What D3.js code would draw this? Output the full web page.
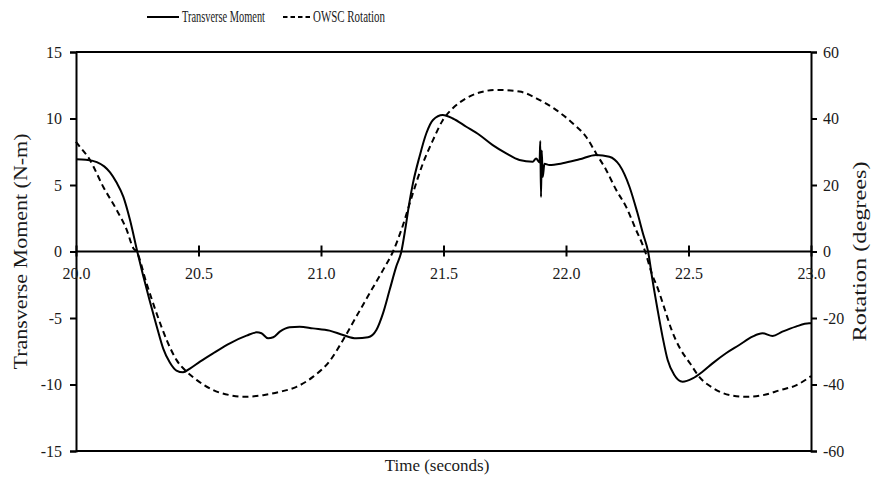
<!DOCTYPE html>
<html>
<head>
<meta charset="utf-8">
<script src="https://cdn.jsdelivr.net/npm/d3@7"></script>
<style>
  body { margin: 0; background: #fff; }
  text { font-family: "Liberation Serif", "Times New Roman", serif; fill: #1a1a1a; }
</style>
</head>
<body>
<div id="chart-area"></div>
<script>
// Transverse moment (N-m), solid line, left axis
const momentTime = [20.000, 20.040, 20.085, 20.115, 20.139, 20.165, 20.193, 20.220, 20.250, 20.274,
  20.300, 20.329, 20.356, 20.383, 20.410, 20.437, 20.465, 20.506, 20.560, 20.628,
  20.696, 20.737, 20.757, 20.784, 20.805, 20.832, 20.872, 20.913, 20.967, 21.035,
  21.090, 21.144, 21.192, 21.226, 21.253, 21.280, 21.307, 21.328, 21.345, 21.360,
  21.375, 21.402, 21.430, 21.457, 21.497, 21.538, 21.593, 21.647, 21.701, 21.756,
  21.810, 21.864, 21.878, 21.892, 21.895, 21.898, 21.901, 21.905, 21.912, 21.932,
  21.986, 22.055, 22.123, 22.177, 22.218, 22.259, 22.290, 22.315, 22.335, 22.353,
  22.374, 22.394, 22.415, 22.442, 22.476, 22.517, 22.557, 22.598, 22.653, 22.707,
  22.761, 22.802, 22.843, 22.883, 22.938, 22.992, 23.000];
const momentValue = [6.93, 6.90, 6.72, 6.40, 5.95, 5.20, 4.12, 2.40, 0.00, -1.80,
  -3.65, -5.60, -7.30, -8.35, -8.95, -9.08, -8.80, -8.28, -7.65, -6.90,
  -6.33, -6.08, -6.15, -6.53, -6.45, -6.03, -5.70, -5.65, -5.78, -5.95,
  -6.28, -6.53, -6.45, -5.90, -4.65, -2.90, -1.14, 0.00, 1.80, 3.60,
  5.10, 7.13, 8.89, 9.89, 10.26, 10.00, 9.38, 8.76, 8.00, 7.38,
  6.88, 6.75, 7.00, 6.70, 8.30, 4.10, 7.60, 5.60, 6.60, 6.50,
  6.63, 6.93, 7.26, 7.13, 6.50, 4.87, 3.00, 1.30, 0.00, -2.14,
  -4.40, -6.40, -8.16, -9.29, -9.79, -9.54, -9.04, -8.41, -7.65, -7.03,
  -6.40, -6.15, -6.35, -6.03, -5.65, -5.40, -5.40];

// OWSC rotation (degrees), dashed line, right axis
const rotationTime = [20.000, 20.005, 20.057, 20.111, 20.166, 20.207, 20.234, 20.247, 20.288, 20.329,
  20.370, 20.410, 20.451, 20.492, 20.560, 20.628, 20.682, 20.764, 20.832, 20.900,
  20.967, 21.035, 21.090, 21.144, 21.198, 21.253, 21.294, 21.328, 21.375, 21.416,
  21.457, 21.497, 21.538, 21.593, 21.647, 21.715, 21.810, 21.891, 21.959, 22.027,
  22.082, 22.123, 22.164, 22.205, 22.245, 22.283, 22.323, 22.350, 22.377, 22.404,
  22.431, 22.465, 22.506, 22.544, 22.601, 22.669, 22.737, 22.805, 22.873, 22.941,
  22.996, 23.000];
const rotationValue = [33.0, 32.5, 27.5, 19.5, 12.5, 6.5, 1.0, 0.0, -9.6, -18.6,
  -26.6, -32.6, -36.1, -38.6, -41.7, -43.2, -43.7, -43.2, -42.2, -40.7,
  -37.7, -33.0, -26.6, -19.6, -12.6, -5.6, 0.0, 6.5, 17.5, 26.5,
  33.5, 39.5, 43.1, 46.1, 47.8, 48.6, 48.1, 45.6, 42.6, 38.6,
  34.5, 29.5, 24.5, 18.5, 13.5, 7.0, 0.0, -6.6, -11.6, -17.6,
  -23.6, -29.1, -33.6, -37.7, -41.1, -43.2, -43.7, -43.2, -41.7, -40.2,
  -37.7, -37.5];

const xTicks = [20.0, 20.5, 21.0, 21.5, 22.0, 22.5, 23.0];
const leftTicks = [-15, -10, -5, 0, 5, 10, 15];
const rightTicks = [-60, -40, -20, 0, 20, 40, 60];

const seriesNames = ["Transverse Moment", "OWSC Rotation"];

let width = 879, height = 479;
let plot = { left: 76, right: 811, top: 52, bottom: 451 };
let serif = "'Liberation Serif', 'Times New Roman', serif";

let svg = d3.select("#chart-area")
  .append("svg")
  .attr("width", width)
  .attr("height", height);

let x = d3.scaleLinear().domain([20, 23]).range([plot.left, plot.right]);
let yLeft = d3.scaleLinear().domain([-15, 15]).range([plot.bottom, plot.top]);
let yRight = d3.scaleLinear().domain([-60, 60]).range([plot.bottom, plot.top]);

// plot border top and bottom
svg.append("line")
  .attr("x1", plot.left).attr("x2", plot.right)
  .attr("y1", plot.top).attr("y2", plot.top)
  .attr("stroke", "#000").attr("stroke-width", 2);
svg.append("line")
  .attr("x1", plot.left).attr("x2", plot.right)
  .attr("y1", plot.bottom).attr("y2", plot.bottom)
  .attr("stroke", "#000").attr("stroke-width", 2);

let intFormat = d => String(d);

// left axis
let leftAxis = svg.append("g")
  .attr("transform", "translate(" + plot.left + ",0)")
  .call(d3.axisLeft(yLeft).tickValues(leftTicks).tickSize(6).tickPadding(8).tickFormat(intFormat));

// right axis
let rightAxis = svg.append("g")
  .attr("transform", "translate(" + plot.right + ",0)")
  .call(d3.axisRight(yRight).tickValues(rightTicks).tickSize(6).tickPadding(6).tickFormat(intFormat));

// x axis along zero line
let xAxis = svg.append("g")
  .attr("transform", "translate(0," + yLeft(0) + ")")
  .call(d3.axisBottom(x).tickValues(xTicks).tickSize(5).tickPadding(11).tickFormat(d => d.toFixed(1)));
xAxis.selectAll(".tick line").attr("y1", -6).attr("y2", 5);
xAxis.select(".domain").attr("d", "M" + plot.left + ",0H" + plot.right);

[leftAxis, rightAxis, xAxis].forEach(g => {
  g.attr("font-family", serif).attr("font-size", 16);
  g.select(".domain").attr("stroke", "#000").attr("stroke-width", 2);
  g.selectAll(".tick line").attr("stroke", "#000").attr("stroke-width", 2);
  g.selectAll(".tick text")
    .style("font-family", serif)
    .style("font-size", "16px")
    .attr("fill", "#1a1a1a");
});

// lines
let momentData = momentTime.map((t, i) => ({ t: t, v: momentValue[i] }));
let rotationData = rotationTime.map((t, i) => ({ t: t, v: rotationValue[i] }));

let momentLine = d3.line().x(d => x(d.t)).y(d => yLeft(d.v)).curve(d3.curveMonotoneX);
let rotationLine = d3.line().x(d => x(d.t)).y(d => yRight(d.v)).curve(d3.curveMonotoneX);

svg.append("path")
  .datum(rotationData)
  .attr("d", rotationLine)
  .attr("fill", "none")
  .attr("stroke", "#000")
  .attr("stroke-width", 2)
  .attr("stroke-dasharray", "6,4");

svg.append("path")
  .datum(momentData)
  .attr("d", momentLine)
  .attr("fill", "none")
  .attr("stroke", "#000")
  .attr("stroke-width", 2);

// axis titles
svg.append("text")
  .text("Transverse Moment (N-m)")
  .attr("transform", "translate(27," + (plot.top + plot.bottom) / 2 + ") rotate(-90)")
  .attr("text-anchor", "middle")
  .attr("textLength", 236).attr("lengthAdjust", "spacingAndGlyphs")
  .style("font-size", "18px");

svg.append("text")
  .text("Rotation (degrees)")
  .attr("transform", "translate(866," + (plot.top + plot.bottom) / 2 + ") rotate(-90)")
  .attr("text-anchor", "middle")
  .attr("textLength", 180).attr("lengthAdjust", "spacingAndGlyphs")
  .style("font-size", "18px");

svg.append("text")
  .text("Time (seconds)")
  .attr("x", 437)
  .attr("y", 471)
  .attr("text-anchor", "middle")
  .style("font-size", "17px");

// legend
let legend = svg.append("g").attr("transform", "translate(0,17)");
legend.append("line")
  .attr("x1", 147).attr("x2", 179).attr("y1", 0).attr("y2", 0)
  .attr("stroke", "#000").attr("stroke-width", 2);
legend.append("text")
  .text(seriesNames[0])
  .attr("x", 182).attr("y", 5)
  .attr("textLength", 83).attr("lengthAdjust", "spacingAndGlyphs")
  .style("font-size", "16px");
legend.append("line")
  .attr("x1", 283).attr("x2", 310).attr("y1", 0).attr("y2", 0)
  .attr("stroke", "#000").attr("stroke-width", 2)
  .attr("stroke-dasharray", "4.5,3");
legend.append("text")
  .text(seriesNames[1])
  .attr("x", 313).attr("y", 5)
  .attr("textLength", 72).attr("lengthAdjust", "spacingAndGlyphs")
  .style("font-size", "16px");
</script>
</body>
</html>
